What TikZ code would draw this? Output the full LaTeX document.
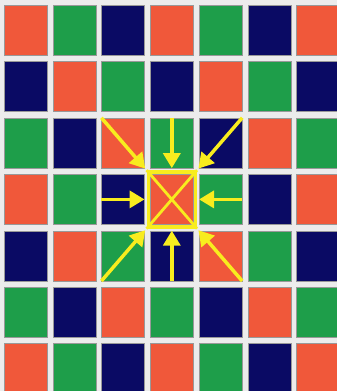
\documentclass[tikz,border=0pt]{standalone}
\usetikzlibrary{arrows.meta}
\definecolor{col0}{RGB}{240,88,58}
\definecolor{col1}{RGB}{30,158,74}
\definecolor{col2}{RGB}{10,10,100}
\definecolor{bg}{RGB}{236,236,236}
\definecolor{yel}{RGB}{248,236,30}
\tikzset{
  cell/.style={draw=black!40, line width=0.4pt, minimum width=43pt, minimum height=50pt, inner sep=0pt, anchor=north west},
  hilite/.style={draw=yel, line width=3.5pt, minimum width=47pt, minimum height=55pt, inner sep=0pt},
  arr/.style={yel, line width=3.5pt, -{Triangle[width=17pt,length=15pt]}, shorten >=2pt},
  diag/.style={yel, line width=2.8pt}
}
\begin{document}
\begin{tikzpicture}[x=1pt,y=-1pt]
\useasboundingbox (0,0) rectangle (337,391);
\fill[bg] (0,0) rectangle (337,391);
\foreach \r in {0,...,6}{
  \foreach \c in {0,...,6}{
    \pgfmathtruncatemacro\k{mod(\c-\r+9,3)}
    \node[cell, fill=col\k] (c\r\c) at ({4+\c*48.7},{5+\r*56.4}) {};
  }
}
\node[hilite] (box) at (c33.center) {};
\draw[diag] (box.north west) -- (box.south east);
\draw[diag] (box.north east) -- (box.south west);
\draw[arr] (c22.north west) -- (box.north west);
\draw[arr] (c23.north) -- (box.north);
\draw[arr] (c24.north east) -- (box.north east);
\draw[arr] (c32.west) -- (box.west);
\draw[arr] (c34.east) -- (box.east);
\draw[arr] (c42.south west) -- (box.south west);
\draw[arr] (c43.south) -- (box.south);
\draw[arr] (c44.south east) -- (box.south east);
\end{tikzpicture}
\end{document}
